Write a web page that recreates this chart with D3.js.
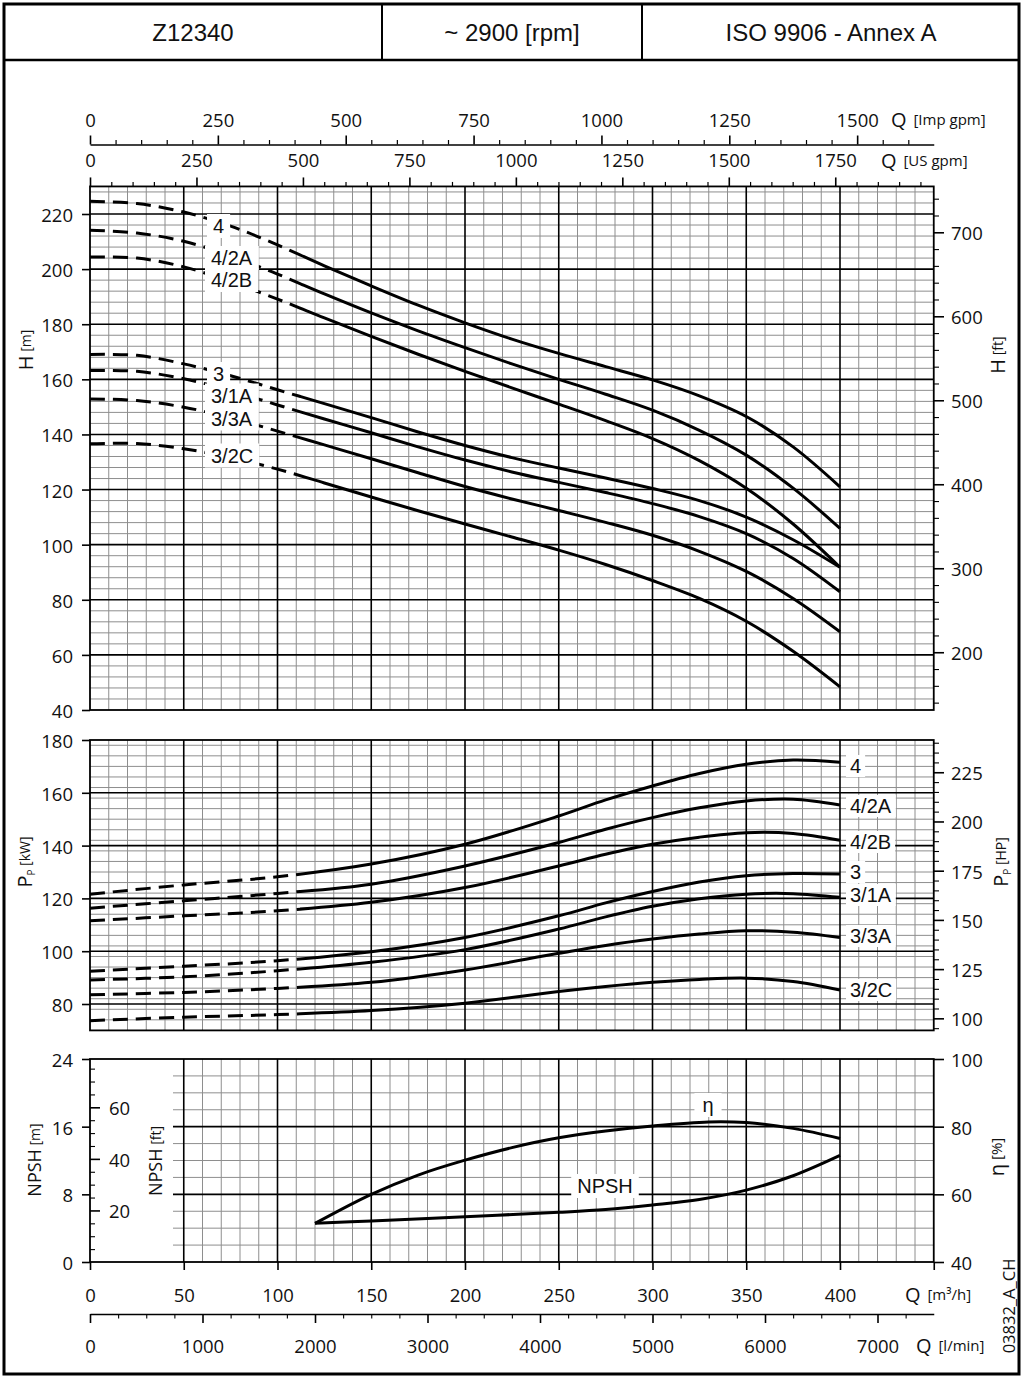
<!DOCTYPE html>
<html><head><meta charset="utf-8">
<script src="https://cdn.jsdelivr.net/npm/d3@7"></script>
<style>
body{margin:0;background:#fff}
svg{display:block}
text{font-family:'Open Sans','Noto Sans',sans-serif;fill:#111}
</style>
</head><body>
<svg id="chart" width="1024" height="1381"></svg>
<script>
// ---------------- DATA ----------------
const headerTexts = ["Z12340", "~ 2900 [rpm]", "ISO 9906 - Annex A"];
const curveNames = ["4", "4/2A", "4/2B", "3", "3/1A", "3/3A", "3/2C"];

const qHead = [0,25,50,75,100,125,150,175,200,225,250,275,300,325,350,375,400];
const head_4    = [224.6,223.8,220.7,215.6,208.8,201.2,193.9,186.9,180.5,174.6,169.4,164.6,159.8,154.0,146.5,135.5,121.0];
const head_4_2A = [214.1,213.1,210.1,204.8,198.2,191.0,184.1,177.6,171.5,165.6,160.0,154.6,148.8,141.5,132.5,120.5,105.9];
const head_4_2B = [204.4,204.0,200.8,195.4,189.1,182.3,175.6,169.1,162.9,156.9,151.0,145.0,138.5,130.5,120.5,107.5,91.8];
const head_3    = [169.0,168.7,165.6,161.3,156.2,151.2,146.1,140.9,136.0,131.6,127.8,124.2,120.4,116.0,110.0,101.8,91.8];
const head_3_1A = [163.2,162.9,160.2,155.9,150.7,145.6,140.6,135.5,130.7,126.4,122.6,118.9,114.9,110.2,104.0,95.0,82.9];
const head_3_3A = [152.9,152.3,149.9,146.0,141.2,136.2,131.2,126.1,121.1,116.6,112.4,108.1,103.4,97.6,90.3,80.5,68.4];
const head_3_2C = [136.6,136.7,134.8,131.6,127.4,122.4,117.3,112.3,107.5,102.8,98.0,92.8,87.0,80.5,72.2,61.3,48.4];

const qPower = [0,50,100,150,200,250,275,300,325,350,375,400];
const power_4    = [121.6,125.1,128.2,133.0,140.5,151.2,157.3,162.6,167.3,170.8,172.4,171.6];
const power_4_2A = [116.3,119.1,121.9,125.4,132.3,141.2,146.2,150.6,154.3,156.9,157.6,155.4];
const power_4_2B = [111.5,113.4,115.3,118.5,124.1,132.3,136.7,140.5,143.2,144.9,144.6,142.0];
const power_3    = [92.4,94.3,96.4,99.8,105.2,113.4,118.3,122.6,126.2,128.6,129.4,129.2];
const power_3_1A = [89.1,90.3,92.6,95.8,100.6,108.4,113.0,117.0,119.9,121.6,121.8,120.4];
const power_3_3A = [83.5,84.4,85.9,88.2,92.9,99.2,102.2,104.6,106.5,107.7,107.2,105.2];
const power_3_2C = [73.7,75.0,76.0,77.5,80.3,84.7,86.6,88.2,89.3,89.8,88.5,85.3];

const qEff = [120,150,175,200,225,250,275,300,330,350,375,400];
const efficiency = [51.4,60.0,65.7,70.1,73.8,76.7,78.7,80.2,81.4,81.2,79.5,76.5];
const qNpsh = [120,150,200,250,275,300,325,350,375,400];
const npsh = [4.57,4.85,5.36,5.87,6.2,6.74,7.4,8.5,10.2,12.6];

const dashedUpTo = 112; // curves dashed for Q below this

// tick labels
const qTicks = [0,50,100,150,200,250,300,350,400];
const impTicks = [0,250,500,750,1000,1250,1500];
const usTicks = [0,250,500,750,1000,1250,1500,1750];
const lminTicks = [0,1000,2000,3000,4000,5000,6000,7000];
const hTicks = [40,60,80,100,120,140,160,180,200,220];
const ftTicks = [200,300,400,500,600,700];
const pTicks = [80,100,120,140,160,180];
const hpTicks = [100,125,150,175,200,225];
const npshTicks = [0,8,16,24];
const npshFtTicks = [20,40,60];
const etaTicks = [40,60,80,100];

// ---------------- DRAW ----------------
const svg = d3.select("#chart");
const ARIAL = "'Liberation Sans',Arial,sans-serif";
const MINOR = "#8e8e8e";
const fmt = d3.format("d");

const x = d3.scaleLinear().domain([0,450]).range([90,933.75]);
const yH = d3.scaleLinear().domain([40,230]).range([710,186.44]);
const yP = d3.scaleLinear().domain([70,180]).range([1030.4,740]);
const yN = d3.scaleLinear().domain([0,24]).range([1262,1059]);
const yEta = d3.scaleLinear().domain([40,100]).range([1262,1059]);

const ln = (g,x1,y1,x2,y2,c,w)=>g.append("line").attr("x1",x1).attr("y1",y1).attr("x2",x2).attr("y2",y2).attr("stroke",c).attr("stroke-width",w);

// outer frame + header
svg.append("rect").attr("x",4).attr("y",4).attr("width",1015).attr("height",1370)
  .attr("fill","none").attr("stroke","#000").attr("stroke-width",3);
ln(svg,4,60,1019,60,"#000",2.5);
ln(svg,382,4,382,60,"#000",2);
ln(svg,642,4,642,60,"#000",2);
const headerCenters = [193,512,831];
headerTexts.forEach((t,i)=>{
  svg.append("text").attr("x",headerCenters[i]).attr("y",32).attr("text-anchor","middle")
    .attr("dominant-baseline","central").style("font-family",ARIAL).style("font-size","24px").text(t);
});

// ---- grids ----
function grid(yScale, yLo, yHi, minorStep, majorStep, gridX0, minorQStart) {
  const g = svg.append("g");
  const yTop = yScale(yHi), yBot = yScale(yLo);
  const xs = gridX0;
  d3.range(yLo+minorStep, yHi-1e-6, minorStep).filter(v=>Math.abs(v/majorStep-Math.round(v/majorStep))>1e-6)
    .forEach(v=>ln(g,xs,yScale(v),x(450),yScale(v),MINOR,1));
  d3.range(minorQStart,450,10).filter(q=>q%50!==0)
    .forEach(q=>ln(g,x(q),yTop,x(q),yBot,MINOR,1));
  d3.range(Math.ceil((yLo+1e-6)/majorStep)*majorStep, yHi-1e-6, majorStep)
    .forEach(v=>ln(g,xs,yScale(v),x(450),yScale(v),"#000",1.6));
  d3.range(50,450,50).forEach(q=>ln(g,x(q),yTop,x(q),yBot,"#000",1.6));
  g.append("rect").attr("x",x(0)).attr("y",yTop).attr("width",x(450)-x(0)).attr("height",yBot-yTop)
    .attr("fill","none").attr("stroke","#000").attr("stroke-width",1.8);
  return g;
}
grid(yH,40,230,4,20,x(0),10);
grid(yP,70,180,4,20,x(0),10);
grid(yN,0,24,2,8,173,60);

// ---- axes ----
function styleAxis(g, w){
  g.selectAll("line").attr("stroke","#000").attr("stroke-width",w);
  g.selectAll("path.domain").attr("stroke","#000").attr("stroke-width",1.6);
  g.selectAll("text").style("font-size","18.5px").style("font-family","'Open Sans','Noto Sans',sans-serif").attr("fill","#111");
}
function noDomain(g){ g.select("path.domain").remove(); }

// top Imp gpm axis
const qImp = d3.scaleLinear().domain([0,450/0.272765]).range(x.range());
{
  const g = svg.append("g").attr("transform","translate(0,144.5)");
  g.call(d3.axisTop(qImp).tickValues(d3.range(50,1650,50).filter(v=>v%250!==0)).tickSize(4.5).tickSizeOuter(0).tickFormat(""));
  styleAxis(g,1.2);
  const g2 = svg.append("g").attr("transform","translate(0,144.5)");
  g2.call(d3.axisTop(qImp).tickValues(impTicks).tickSize(9).tickSizeOuter(0).tickFormat(fmt));
  noDomain(g2); styleAxis(g2,1.6);
  g2.selectAll(".tick text").attr("y",-25.5).attr("dy",null).attr("dominant-baseline","central");
}
// top US gpm axis
const qUS = d3.scaleLinear().domain([0,450/0.227125]).range(x.range());
{
  const g = svg.append("g").attr("transform",`translate(0,${yH(230)})`);
  g.call(d3.axisTop(qUS).tickValues(d3.range(50,1990,50).filter(v=>v%250!==0)).tickSize(4.5).tickSizeOuter(0).tickFormat(""));
  noDomain(g); styleAxis(g,1.2);
  const g2 = svg.append("g").attr("transform",`translate(0,${yH(230)})`);
  g2.call(d3.axisTop(qUS).tickValues(usTicks).tickSize(9).tickSizeOuter(0).tickFormat(fmt));
  noDomain(g2); styleAxis(g2,1.6);
  g2.selectAll(".tick text").attr("y",-26.5).attr("dy",null).attr("dominant-baseline","central");
}
// left axes
function leftAxis(scale, vals){
  const g = svg.append("g").attr("transform","translate(90,0)");
  g.call(d3.axisLeft(scale).tickValues(vals).tickSize(8).tickPadding(9).tickSizeOuter(0).tickFormat(fmt));
  noDomain(g); styleAxis(g,1.6);
  g.selectAll(".tick text").attr("dy",null).attr("dominant-baseline","central");
}
leftAxis(yH,hTicks);
leftAxis(yP,pTicks);
leftAxis(yN,npshTicks);
// right axes
function rightAxis(scale, major, minor){
  if (minor){
    const g = svg.append("g").attr("transform","translate(934,0)");
    g.call(d3.axisRight(scale).tickValues(minor).tickSize(5).tickFormat(""));
    noDomain(g); styleAxis(g,1.1);
  }
  const g2 = svg.append("g").attr("transform","translate(934,0)");
  g2.call(d3.axisRight(scale).tickValues(major).tickSize(10).tickPadding(7).tickFormat(fmt));
  noDomain(g2); styleAxis(g2,1.6);
  g2.selectAll(".tick text").attr("dy",null).attr("dominant-baseline","central");
}
const ftScale = d3.scaleLinear().domain([40/0.3048,230/0.3048]).range(yH.range());
rightAxis(ftScale, ftTicks, d3.range(140,760,20).filter(v=>v%100!==0));
const hpScale = d3.scaleLinear().domain([70/0.7457,180/0.7457]).range(yP.range());
rightAxis(hpScale, hpTicks, d3.range(95,245,5).filter(v=>v%25!==0));
rightAxis(yEta, etaTicks, null);
// NPSH ft axis (inside, at left edge)
const npshFt = d3.scaleLinear().domain([0,24/0.3048]).range(yN.range());
{
  const g = svg.append("g").attr("transform","translate(90,0)");
  g.call(d3.axisRight(npshFt).tickValues(d3.range(5,80,5).filter(v=>v%20!==0)).tickSize(5).tickFormat(""));
  noDomain(g); styleAxis(g,1.1);
  const g2 = svg.append("g").attr("transform","translate(90,0)");
  g2.call(d3.axisRight(npshFt).tickValues(npshFtTicks).tickSize(10).tickPadding(9).tickFormat(fmt));
  noDomain(g2); styleAxis(g2,1.6);
  g2.selectAll(".tick text").attr("dy",null).attr("dominant-baseline","central");
}
// bottom m3/h axis
{
  const g = svg.append("g").attr("transform","translate(0,1262)");
  g.call(d3.axisBottom(x).tickValues(d3.range(0,451,50)).tickSize(8).tickFormat(d=>qTicks.includes(d)?fmt(d):""));
  noDomain(g); styleAxis(g,1.6);
  g.selectAll(".tick text").attr("y",32).attr("dy",null).attr("dominant-baseline","central");
}
// l/min axis
const lmin = d3.scaleLinear().domain([0,7500]).range(x.range());
{
  const g = svg.append("g").attr("transform","translate(0,1314)");
  g.call(d3.axisBottom(lmin).tickValues(d3.range(250,7500,250).filter(v=>v%1000!==0)).tickSize(4.5).tickSizeOuter(0).tickFormat(""));
  styleAxis(g,1.1);
  const g2 = svg.append("g").attr("transform","translate(0,1314)");
  g2.call(d3.axisBottom(lmin).tickValues(lminTicks).tickSize(9).tickFormat(fmt));
  noDomain(g2); styleAxis(g2,1.6);
  g2.selectAll(".tick text").attr("y",31).attr("dy",null).attr("dominant-baseline","central");
}

// axis unit titles (Q ...)
function qTitle(x0,y0,unit){
  const t = svg.append("text").attr("x",x0).attr("y",y0).attr("dominant-baseline","central");
  t.append("tspan").style("font-size","20px").text("Q");
  t.append("tspan").attr("dx",3).style("font-size","15px").text(" "+unit);
}
qTitle(891,119,"[Imp gpm]");
qTitle(881,160,"[US gpm]");
qTitle(905,1294,"[m³/h]");
qTitle(916,1345,"[l/min]");

// rotated titles
function rotTitle(cx,cy,parts,size){
  const t = svg.append("text").attr("transform",`translate(${cx},${cy}) rotate(-90)`)
    .attr("text-anchor","middle").attr("dominant-baseline","central").style("font-size",size+"px");
  parts.forEach(p=>{
    const s = t.append("tspan").text(p.t).style("font-size",p.s+"px");
    if (p.sub) s.attr("baseline-shift","sub");
  });
  return t;
}
rotTitle(25,350,[{t:"H",s:20},{t:" [m]",s:14}],20);
rotTitle(997,355,[{t:"H",s:20},{t:" [ft]",s:14}],20);
rotTitle(24,862,[{t:"P",s:20},{t:"P",s:10,sub:true},{t:" [kW]",s:14}],20);
rotTitle(1000,862,[{t:"P",s:20},{t:"P",s:10,sub:true},{t:" [HP]",s:14}],20);
rotTitle(34,1160,[{t:"NPSH",s:18},{t:" [m]",s:14}],18);
rotTitle(155,1161,[{t:"NPSH",s:18},{t:" [ft]",s:14}],18);
rotTitle(996,1157,[{t:"η",s:20},{t:" [%]",s:15}],20);
rotTitle(1008,1306,[{t:"03832_A_CH",s:16.5}],16.5);

// ---- curves ----
const defs = svg.append("defs");
defs.append("clipPath").attr("id","clipDash").append("rect").attr("x",0).attr("y",0).attr("width",x(dashedUpTo)).attr("height",1381);
defs.append("clipPath").attr("id","clipSolid").append("rect").attr("x",x(dashedUpTo)).attr("y",0).attr("width",1024-x(dashedUpTo)).attr("height",1381);

function drawCurve(qs, vs, yScale, dashed){
  const data = qs.map((q,i)=>[q,vs[i]]);
  const gen = d3.line().x(d=>x(d[0])).y(d=>yScale(d[1])).curve(d3.curveCatmullRom.alpha(0.5));
  if (dashed){
    svg.append("path").attr("d",gen(data)).attr("fill","none").attr("stroke","#000").attr("stroke-width",3)
      .attr("stroke-dasharray","15,8").attr("clip-path","url(#clipDash)");
    svg.append("path").attr("d",gen(data)).attr("fill","none").attr("stroke","#000").attr("stroke-width",3)
      .attr("clip-path","url(#clipSolid)");
  } else {
    svg.append("path").attr("d",gen(data)).attr("fill","none").attr("stroke","#000").attr("stroke-width",3);
  }
}
const headSeries = [head_4,head_4_2A,head_4_2B,head_3,head_3_1A,head_3_3A,head_3_2C];
const powerSeries = [power_4,power_4_2A,power_4_2B,power_3,power_3_1A,power_3_3A,power_3_2C];
headSeries.forEach(s=>drawCurve(qHead,s,yH,true));
powerSeries.forEach(s=>drawCurve(qPower,s,yP,true));
drawCurve(qEff,efficiency,yEta,false);
drawCurve(qNpsh,npsh,yN,false);

// ---- labels with white boxes ----
function boxLabel(txt, x0, yc, anchor, padX, padY){
  const g = svg.append("g");
  const t = g.append("text").attr("x",x0).attr("y",yc).attr("text-anchor",anchor||"start")
    .attr("dominant-baseline","central").style("font-family",ARIAL).style("font-size","20px").text(txt);
  const b = t.node().getBBox();
  g.insert("rect","text").attr("x",b.x-padX).attr("y",b.y-padY).attr("width",b.width+2*padX).attr("height",b.height+2*padY).attr("fill","#fff");
}
const headLabelPos = [[213,226],[211,258],[211,280],[213,374],[211,395.5],[211,418.5],[211,455.5]];
curveNames.forEach((n,i)=>boxLabel(n,headLabelPos[i][0],headLabelPos[i][1],"start",6,1));
const powerLabelY = [766,806,842,872,895,936,990];
curveNames.forEach((n,i)=>boxLabel(n,850,powerLabelY[i],"start",4,0));
boxLabel("η",708,1105,"middle",8,1);
boxLabel("NPSH",605,1186,"middle",6,1);
</script>
</body></html>
